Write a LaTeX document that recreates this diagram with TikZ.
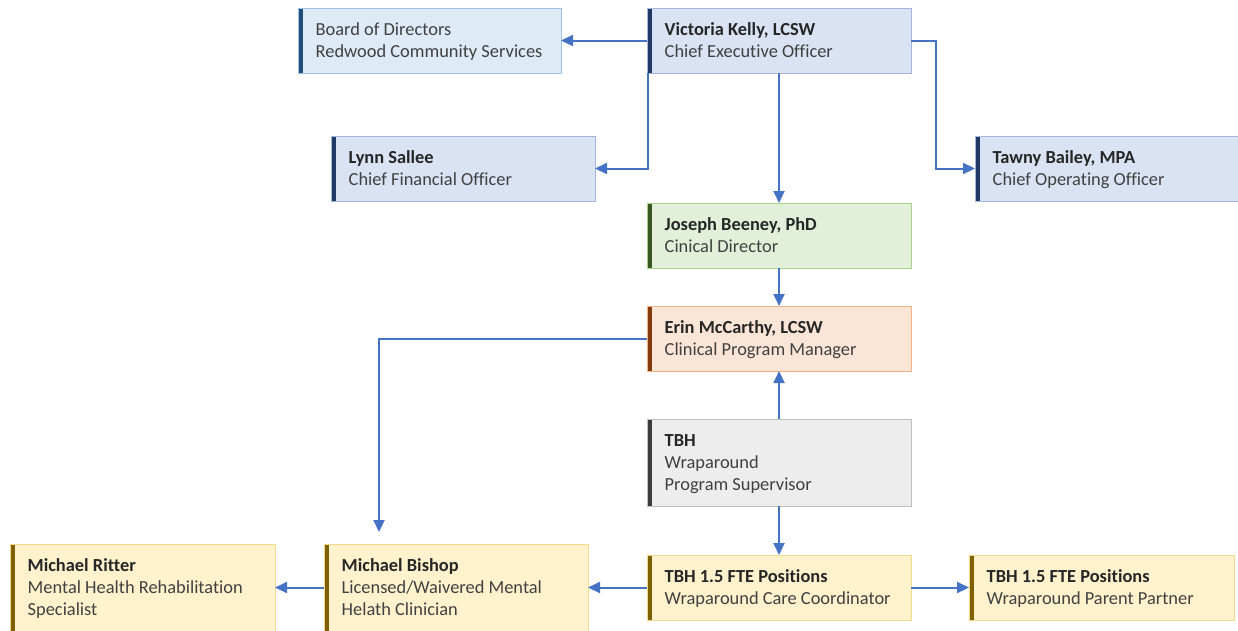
\documentclass[tikz,border=0pt]{standalone}
\usepackage{fontspec}
\setmainfont{Carlito}[Ligatures=NoCommon]
\usetikzlibrary{arrows.meta}
\definecolor{conn}{HTML}{4472C4}
\definecolor{txtgray}{HTML}{404040}
\definecolor{namegray}{HTML}{262626}
\definecolor{lbfill}{HTML}{DEEBF7}\definecolor{lbdraw}{HTML}{9DC3E6}\definecolor{lbbar}{HTML}{1F4E79}
\definecolor{bfill}{HTML}{DAE3F3}\definecolor{bdraw}{HTML}{A4B6DD}\definecolor{bbar}{HTML}{203864}
\definecolor{gfill}{HTML}{E2F0D9}\definecolor{gdraw}{HTML}{A9D18E}\definecolor{gbar}{HTML}{385723}
\definecolor{ofill}{HTML}{FBE5D6}\definecolor{odraw}{HTML}{F4B183}\definecolor{obar}{HTML}{843C0C}
\definecolor{sfill}{HTML}{EDEDED}\definecolor{sdraw}{HTML}{C0C0C0}\definecolor{sbar}{HTML}{3B3B3B}
\definecolor{yfill}{HTML}{FFF2CC}\definecolor{ydraw}{HTML}{F2D98C}\definecolor{goldbar}{HTML}{7F6000}
\newcommand\tl[1]{\begin{tabular}[t]{@{}l@{}}#1\end{tabular}}
\newcommand\nm[1]{{\bfseries\color{namegray}#1}}
\newcommand\obox[8]{%
  \node[box,#2,minimum width=#6pt,minimum height=#7pt] (#1) at (#4,#5) {};
  \fill[fill=#3] ([shift={(0.5pt,-0.5pt)}]#1.north west) rectangle ([shift={(5pt,0.5pt)}]#1.south west);
  \node[txt] (#1-t) at ([xshift=17.5pt,yshift=-27pt]#1.north west) {\tl{#8}};
}
\begin{document}
\begin{tikzpicture}[x=1pt,y=-1pt,
  box/.style={draw,line width=1pt,anchor=north west,inner sep=0pt,outer sep=0pt},
  lblue/.style={fill=lbfill,draw=lbdraw},
  blue/.style={fill=bfill,draw=bdraw},
  green/.style={fill=gfill,draw=gdraw},
  orange/.style={fill=ofill,draw=odraw},
  gray/.style={fill=sfill,draw=sdraw},
  yellow/.style={fill=yfill,draw=ydraw},
  txt/.style={anchor=base west,inner sep=0pt,text=txtgray,font=\fontsize{18.4}{22}\selectfont},
  conn/.style={draw=conn,line width=2pt,-{Triangle[length=12pt,width=11pt]}}]
\useasboundingbox (0,0) rectangle (1238,630);
\obox{board}{lblue}{lbbar}{298}{8}{263}{65}{Board of Directors\\Redwood Community Services}
\obox{ceo}{blue}{bbar}{647}{8}{264}{65}{\nm{Victoria Kelly, LCSW}\\Chief Executive Officer}
\obox{lynn}{blue}{bbar}{331}{136}{264}{65}{\nm{Lynn Sallee}\\Chief Financial Officer}
\obox{tawny}{blue}{bbar}{975}{136}{266}{65}{\nm{Tawny Bailey, MPA}\\Chief Operating Officer}
\obox{joseph}{green}{gbar}{647}{203}{264}{65}{\nm{Joseph Beeney, PhD}\\Cinical Director}
\obox{erin}{orange}{obar}{647}{306}{264}{65}{\nm{Erin McCarthy, LCSW}\\Clinical Program Manager}
\obox{tbh}{gray}{sbar}{647}{419}{264}{87}{\nm{TBH}\\Wraparound\\Program Supervisor}
\obox{coord}{yellow}{goldbar}{647}{555}{264}{65}{\nm{TBH 1.5 FTE Positions}\\Wraparound Care Coordinator}
\obox{parent}{yellow}{goldbar}{969}{555}{265}{65}{\nm{TBH 1.5 FTE Positions}\\Wraparound Parent Partner}
\obox{bishop}{yellow}{goldbar}{324}{544}{264}{87}{\nm{Michael Bishop}\\Licensed/Waivered Mental\\Helath Clinician}
\obox{ritter}{yellow}{goldbar}{10}{544}{265}{87}{\nm{Michael Ritter}\\Mental Health Rehabilitation\\Specialist}
% connectors
\draw[conn] (ceo.west) -- (board.east);
\draw[conn] ([xshift=0.5pt]ceo.south west) -- ([xshift=0.5pt]ceo.south west |- lynn.east) -- (lynn.east);
\draw[conn] (ceo.south) -- (joseph.north);
\draw[conn] (ceo.east) -- ++(25,0) |- (tawny.west);
\draw[conn] (joseph.south) -- (erin.north);
\draw[conn] (tbh.north) -- (erin.south);
\draw[conn] (tbh.south) -- (coord.north);
\coordinate (bin) at ([xshift=55pt,yshift=12pt]bishop.north west);
\draw[conn] (erin.west) -| (bin);
\draw[conn] (coord.west) -- (coord.west -| bishop.east);
\draw[conn] (coord.east) -- (parent.west);
\draw[conn] (bishop.west) -- (ritter.east);
\end{tikzpicture}
\end{document}
